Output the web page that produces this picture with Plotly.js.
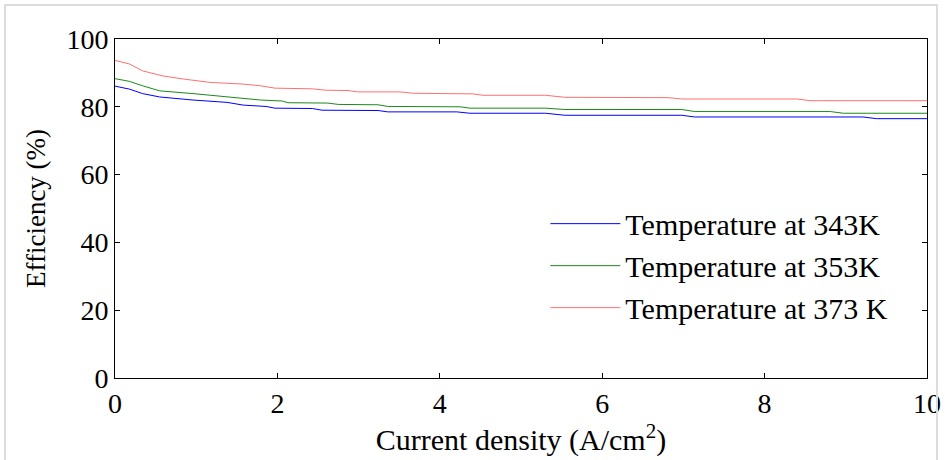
<!DOCTYPE html>
<html>
<head>
<meta charset="utf-8">
<script src="https://cdn.plot.ly/plotly-3.0.1.min.js"></script>
<style>
  html, body { margin: 0; padding: 0; background: #fff; }
  #wrap { position: relative; width: 945px; height: 460px; }
  #chart { width: 945px; height: 460px; }
  #frame { position: absolute; left: 4px; top: 4px; width: 934px; height: 470px;
           border: 2px solid #dcdcdc; pointer-events: none; box-sizing: border-box; }
</style>
</head>
<body>
<div id="wrap">
  <div id="chart"></div>
  <div id="frame"></div>
</div>
<script>
// Current density (A/cm^2) and efficiency (%)
const x343 = [0, 0.18, 0.34, 0.55, 0.96, 1.38, 1.58, 1.86, 1.97, 2.43, 2.55, 3.24, 3.36, 4.21, 4.37, 5.30, 5.54, 6.98, 7.14, 9.21, 9.38, 10];
const eff343 = [86.1, 85.2, 83.9, 82.9, 82.0, 81.3, 80.5, 80.1, 79.6, 79.5, 79.0, 78.9, 78.5, 78.5, 78.1, 78.1, 77.5, 77.5, 77.0, 77.0, 76.5, 76.5];

const x353 = [0, 0.18, 0.34, 0.55, 0.96, 1.38, 1.79, 2.06, 2.13, 2.62, 2.75, 3.24, 3.36, 4.25, 4.37, 5.30, 5.54, 6.98, 7.14, 8.81, 8.97, 10];
const eff353 = [88.3, 87.5, 86.2, 84.7, 83.9, 82.9, 82.0, 81.7, 81.2, 81.1, 80.7, 80.6, 80.1, 80.0, 79.6, 79.6, 79.2, 79.2, 78.6, 78.6, 78.1, 78.1];

const x373 = [0, 0.18, 0.34, 0.59, 0.84, 1.17, 1.58, 1.79, 1.97, 2.43, 2.59, 2.87, 2.99, 3.51, 3.67, 4.41, 4.53, 5.30, 5.54, 6.81, 6.98, 8.40, 8.56, 10];
const eff373 = [93.7, 92.6, 90.6, 89.1, 88.2, 87.2, 86.7, 86.2, 85.5, 85.3, 84.9, 84.8, 84.4, 84.4, 84.0, 83.8, 83.4, 83.4, 82.8, 82.7, 82.3, 82.3, 81.8, 81.8];

const seriesNames = ['Temperature at 343K', 'Temperature at 353K', 'Temperature at 373 K'];
const xTicks = [0, 2, 4, 6, 8, 10];
const yTicks = [0, 20, 40, 60, 80, 100];

const fontFam = '"Liberation Serif", "Times New Roman", serif';

const traces = [
  { x: x343, y: eff343, name: seriesNames[0], mode: 'lines', line: { color: '#0000ff', width: 1 } },
  { x: x353, y: eff353, name: seriesNames[1], mode: 'lines', line: { color: '#1a8a1a', width: 1 } },
  { x: x373, y: eff373, name: seriesNames[2], mode: 'lines', line: { color: '#ff7070', width: 1 } }
];

const axisCommon = {
  showgrid: false, zeroline: false, showline: true, linecolor: '#000', linewidth: 1,
  mirror: 'ticks', ticks: 'inside', ticklen: 5, tickcolor: '#000', tickwidth: 1,
  tickfont: { family: fontFam, size: 28, color: '#000' }
};

const layout = {
  width: 945, height: 460,
  margin: { l: 115, r: 18, t: 39, b: 82 },
  paper_bgcolor: '#fff', plot_bgcolor: '#fff',
  font: { family: fontFam, color: '#000' },
  showlegend: true,
  legend: {
    x: 0.53, y: 0.532, xanchor: 'left', yanchor: 'top',
    bgcolor: 'rgba(0,0,0,0)', borderwidth: 0,
    font: { family: fontFam, size: 30, color: '#000' },
    itemwidth: 70, tracegroupgap: 0
  },
  xaxis: Object.assign({}, axisCommon, {
    range: [0, 10], tickvals: xTicks, ticktext: xTicks.map(String),
    title: { text: 'Current density (A/cm<sup>2</sup>)', font: { family: fontFam, size: 30, color: '#000' }, standoff: 6 }
  }),
  yaxis: Object.assign({}, axisCommon, {
    range: [0, 100], tickvals: yTicks, ticktext: yTicks.map(String),
    title: { text: 'Efficiency (%)', font: { family: fontFam, size: 27, color: '#000' }, standoff: 12 }
  })
};

Plotly.newPlot('chart', traces, layout, { staticPlot: true, displayModeBar: false });
</script>
</body>
</html>
